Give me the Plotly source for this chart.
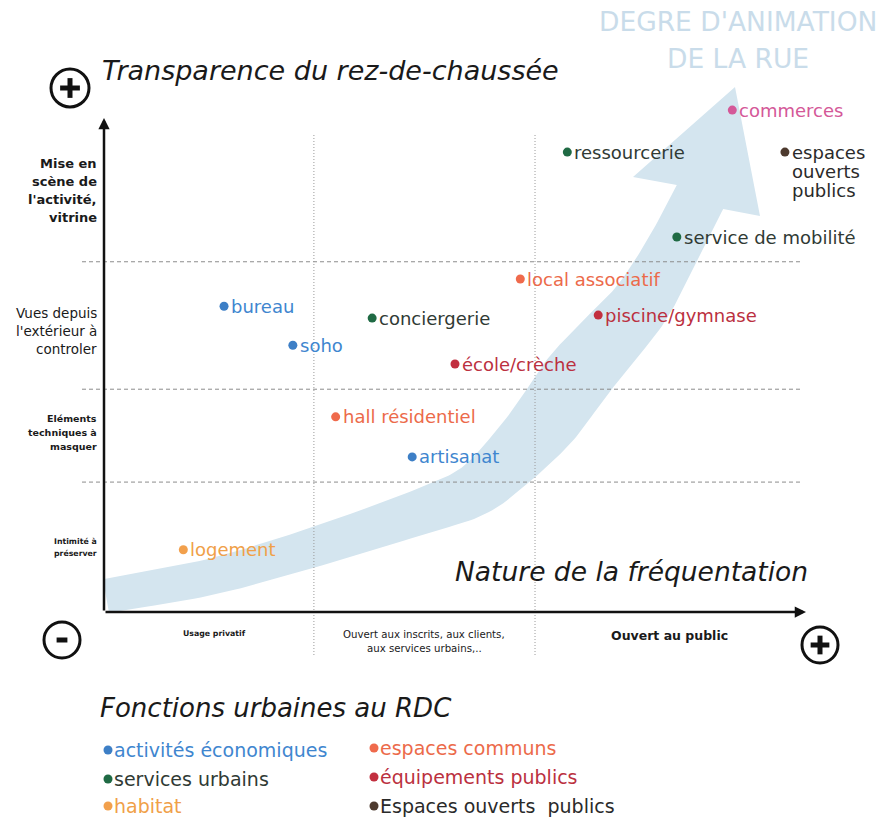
import numpy as np
import plotly.graph_objects as go

# ---------------- data ----------------
functions = ["commerces", "ressourcerie", "espaces\nouverts\npublics", "service de mobilité",
             "local associatif", "bureau", "conciergerie", "piscine/gymnase", "soho",
             "école/crèche", "hall résidentiel", "artisanat", "logement"]
frequentation = [8.95, 6.60, 9.70, 8.16, 5.93, 1.71, 3.82, 7.04, 2.69, 5.00, 3.30, 4.39, 1.13]
transparence = [10.16, 9.31, 9.31, 7.59, 6.74, 6.19, 5.95, 6.01, 5.40, 5.02, 3.95, 3.14, 1.26]
category = ["commerces", "services urbains", "Espaces ouverts publics", "services urbains",
            "espaces communs", "activités économiques", "services urbains", "équipements publics",
            "activités économiques", "équipements publics", "espaces communs",
            "activités économiques", "habitat"]

legend_col1 = ["activités économiques", "services urbains", "habitat"]
legend_col2 = ["espaces communs", "équipements publics", "Espaces ouverts  publics"]
legend_col2_cat = ["espaces communs", "équipements publics", "Espaces ouverts publics"]

y_levels = ["Mise en\nscène de\nl'activité,\nvitrine", "Vues depuis\nl'extérieur à\ncontroler",
            "Eléments\ntechniques à\nmasquer", "Intimité à\npréserver"]
y_level_centers = [8.54, 5.69, 3.64, 1.30]
y_bounds = [2.63, 4.51, 7.09]
x_levels = ["Usage privatif", "Ouvert aux inscrits, aux clients,\naux services urbains,..", "Ouvert au public"]
x_level_centers = [1.57, 4.56, 8.06]
x_bounds = [2.99, 6.14]

# ---------------- styles ----------------
FONT = "DejaVu Sans"
marker_color = {
    "activités économiques": "#3d7fc6",
    "services urbains": "#1f6a44",
    "habitat": "#f2a04c",
    "espaces communs": "#ef6a4c",
    "équipements publics": "#c22f3f",
    "Espaces ouverts publics": "#4d3a2e",
    "commerces": "#d45898",
}
text_color = {
    "activités économiques": "#3f86cf",
    "services urbains": "#303a34",
    "habitat": "#f0a048",
    "espaces communs": "#ec6a4a",
    "équipements publics": "#bb3040",
    "Espaces ouverts publics": "#2a2a2a",
    "commerces": "#d45898",
}
BAND = "#d4e5ef"

# pixel -> data helpers (for decoration placement only)
XS, YS = 70.2, 49.4
def DX(px): return (px - 104) / XS
def DY(py): return (612 - py) / YS

fig = go.Figure()

# ---------------- band arrow (decoration) ----------------
cpx = np.array([(106, 596), (210, 577), (315, 547), (420, 512), (475, 490), (515, 455),
                (548, 418), (575, 380), (605, 345), (640, 305), (670, 255), (700, 197)], float)
wid = np.array([34, 36, 39, 45, 52, 60, 68, 70, 66, 60, 54, 52], float)
pts = np.vstack([2 * cpx[0] - cpx[1], cpx, 2 * cpx[-1] - cpx[-2]])
dense, dw = [], []
for i in range(1, len(pts) - 2):
    p0, p1, p2, p3 = pts[i - 1], pts[i], pts[i + 1], pts[i + 2]
    for t in np.linspace(0, 1, 16, endpoint=False):
        t2, t3 = t * t, t * t * t
        dense.append(0.5 * ((2 * p1) + (-p0 + p2) * t + (2 * p0 - 5 * p1 + 4 * p2 - p3) * t2
                            + (-p0 + 3 * p1 - 3 * p2 + p3) * t3))
        dw.append(wid[i - 1] + (wid[i] - wid[i - 1]) * t)
dense.append(cpx[-1]); dw.append(wid[-1])
dense = np.array(dense); dw = np.array(dw)
# light smoothing of the width profile
dw = np.convolve(np.pad(dw, 6, mode="edge"), np.ones(13) / 13, mode="valid")
tang = np.gradient(dense, axis=0)
tang /= np.linalg.norm(tang, axis=1)[:, None]
nrm = np.stack([tang[:, 1], -tang[:, 0]], axis=1)
upper = dense + nrm * dw[:, None] / 2
lower = dense - nrm * dw[:, None] / 2
head = np.array([(633, 177), (735, 87), (760, 216)], float)
poly = np.vstack([upper, head, lower[::-1], upper[:1]])
fig.add_trace(go.Scatter(x=DX(poly[:, 0]), y=DY(poly[:, 1]), mode="lines", fill="toself",
                         fillcolor=BAND, line=dict(width=0), hoverinfo="skip", showlegend=False))

# ---------------- grid lines ----------------
for yb in y_bounds:
    fig.add_trace(go.Scatter(x=[DX(82), DX(800)], y=[yb, yb], mode="lines",
                             line=dict(color="#8c8c8c", width=1, dash="4px,3px"),
                             hoverinfo="skip", showlegend=False))
for xb in x_bounds:
    fig.add_trace(go.Scatter(x=[xb, xb], y=[DY(135), DY(655)], mode="lines",
                             line=dict(color="#9a9a9a", width=1, dash="1px,2px"),
                             hoverinfo="skip", showlegend=False))

# ---------------- axes with arrows ----------------
fig.add_annotation(x=10, y=0, ax=0, ay=0, xref="x", yref="y", axref="x", ayref="y", text="",
                   showarrow=True, arrowhead=2, arrowsize=0.9, arrowwidth=2.5, arrowcolor="#111")
fig.add_annotation(x=0, y=10, ax=0, ay=0, xref="x", yref="y", axref="x", ayref="y", text="",
                   showarrow=True, arrowhead=2, arrowsize=0.9, arrowwidth=2.5, arrowcolor="#111")

# ---------------- points ----------------
for cat in marker_color:
    idx = [i for i, c in enumerate(category) if c == cat]
    fig.add_trace(go.Scatter(x=[frequentation[i] for i in idx], y=[transparence[i] for i in idx],
                             mode="markers", name=cat,
                             marker=dict(size=9, color=marker_color[cat]),
                             text=[functions[i].replace("\n", " ") for i in idx],
                             hovertemplate="%{text}<extra></extra>", showlegend=False))

def multiline(x, y, text, size, color, spacing, xanchor="left", xshift=0, bold=False,
              italic=False, first_at_anchor=False, family=FONT):
    lines = text.split("\n")
    n = len(lines)
    for i, ln in enumerate(lines):
        t = ln
        if bold: t = "<b>" + t + "</b>"
        if italic: t = "<i>" + t + "</i>"
        off = -i * spacing if first_at_anchor else -(i - (n - 1) / 2) * spacing
        fig.add_annotation(x=x, y=y, xref="x", yref="y", text=t, showarrow=False,
                           xanchor=xanchor, yanchor="middle", xshift=xshift, yshift=off,
                           font=dict(family=family, size=size, color=color))

for f, xv, yv, c in zip(functions, frequentation, transparence, category):
    multiline(xv, yv, f, 18, text_color[c], 19, xshift=5, first_at_anchor=True)

# ---------------- level labels ----------------
ystyle = [(13, True, 18), (13.5, False, 18), (9.5, True, 14), (7.8, True, 12)]
for lab, yc, (sz, b, sp) in zip(y_levels, y_level_centers, ystyle):
    multiline(DX(99), yc, lab, sz, "#1a1a1a", sp, xanchor="right", bold=b)
xstyle = [(7.8, True, 14), (10.2, False, 14), (12.5, True, 14)]
xrow = [DY(633), DY(641), DY(635)]
for lab, xc, yr, (sz, b, sp) in zip(x_levels, x_level_centers, xrow, xstyle):
    multiline(xc, yr, lab, sz, "#1a1a1a", sp, xanchor="center", bold=b)

# ---------------- titles ----------------
fig.add_annotation(x=DX(100), y=DY(70), xref="x", yref="y", text="<i>Transparence du rez-de-chaussée</i>",
                   showarrow=False, xanchor="left", yanchor="middle",
                   font=dict(family=FONT, size=27, color="#1a1a1a"))
fig.add_annotation(x=DX(810), y=DY(571), xref="x", yref="y", text="<i>Nature de la fréquentation</i>",
                   showarrow=False, xanchor="right", yanchor="middle",
                   font=dict(family=FONT, size=26.5, color="#1a1a1a"))
fig.add_annotation(x=DX(98), y=DY(708), xref="x", yref="y", text="<i>Fonctions urbaines au RDC</i>",
                   showarrow=False, xanchor="left", yanchor="middle",
                   font=dict(family=FONT, size=26, color="#1a1a1a"))
multiline(DX(738), DY(40), "DEGRE D'ANIMATION\nDE LA RUE", 26.5, "#c9dcea", 37, xanchor="center")

# ---------------- plus / minus circles ----------------
def sign_circle(cx, cy, r, plus):
    fig.add_shape(type="circle", xref="x", yref="y", xsizemode="pixel", ysizemode="pixel",
                  xanchor=DX(cx), yanchor=DY(cy), x0=-r, x1=r, y0=-r, y1=r,
                  line=dict(color="#111", width=3))
    a = r * 0.52
    fig.add_shape(type="line", xref="x", yref="y", xsizemode="pixel", ysizemode="pixel",
                  xanchor=DX(cx), yanchor=DY(cy), x0=-a if plus else -r * 0.3,
                  x1=a if plus else r * 0.3, y0=0, y1=0, line=dict(color="#111", width=5))
    if plus:
        fig.add_shape(type="line", xref="x", yref="y", xsizemode="pixel", ysizemode="pixel",
                      xanchor=DX(cx), yanchor=DY(cy), x0=0, x1=0, y0=-a, y1=a,
                      line=dict(color="#111", width=5))

sign_circle(70, 88, 19, True)
sign_circle(62, 640, 18, False)
sign_circle(820, 645, 18, True)

# ---------------- custom legend ----------------
rows1 = [750, 779, 806]
rows2 = [748, 777, 806]
lx = [DX(108)] * 3 + [DX(374)] * 3
ly = [DY(r) for r in rows1] + [DY(r) for r in rows2]
lcats = legend_col1 + legend_col2_cat
fig.add_trace(go.Scatter(x=lx, y=ly, mode="markers",
                         marker=dict(size=9, color=[marker_color[c] for c in lcats]),
                         hoverinfo="skip", showlegend=False))
for xx, yy, lab, c in zip(lx, ly, legend_col1 + legend_col2, lcats):
    fig.add_annotation(x=xx, y=yy, xref="x", yref="y", text=lab.replace("  ", "&nbsp; "),
                       showarrow=False, xanchor="left", yanchor="middle", xshift=4,
                       font=dict(family=FONT, size=19, color=text_color[c]))

fig.update_layout(
    width=891, height=820, autosize=False,
    margin=dict(l=0, r=0, t=0, b=0),
    paper_bgcolor="white", plot_bgcolor="white",
    xaxis=dict(range=[-104 / XS, 787 / XS], visible=False, fixedrange=True),
    yaxis=dict(range=[-208 / YS, 612 / YS], visible=False, fixedrange=True),
    showlegend=False,
)
fig.write_html("out.html", config={"displayModeBar": False},
               post_script="document.body.style.margin='0';document.body.style.overflow='hidden';")
